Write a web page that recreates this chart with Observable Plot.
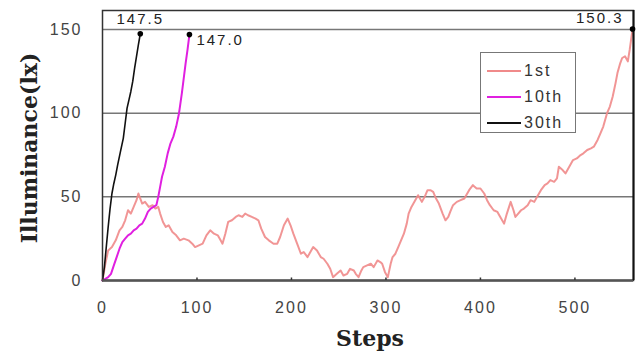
<!DOCTYPE html>
<html>
<head>
<meta charset="utf-8">
<script src="https://cdn.jsdelivr.net/npm/d3@7"></script>
<script src="https://cdn.jsdelivr.net/npm/@observablehq/plot@0.6"></script>
<style>
  html, body { margin: 0; padding: 0; background: #fff; }
  #wrap { position: relative; width: 637px; height: 358px; overflow: hidden; }
  #legend { position: absolute; left: 480px; top: 52px; width: 96px; height: 81px;
    border: 1.5px solid #777; background: #fff; box-sizing: border-box;
    font-family: "Liberation Sans", Arial, sans-serif; font-size: 16px; letter-spacing: 2px; color: #333; }
  #legend .row { position: absolute; left: 6px; height: 20px; display: flex; align-items: center; }
  #legend .sw { width: 34px; height: 0; margin-right: 3px; }
</style>
</head>
<body>
<div id="wrap"></div>
<script>
// Series names and colours
const seriesNames = ["1st", "10th", "30th"];
const seriesColors = ["#f08a8a", "#e020e0", "#111111"];

// 1st run
const steps1 = [0,3,6,10,14,18,21,24,27,30,33,36,38,40,42,45,49,53,56,59,61,64,67,70,74,78,82,86,91,95,98,102,106,110,114,118,122,125,127,130,133,137,141,144,148,151,154,158,162,165,168,172,176,181,185,188,192,196,199,202,206,210,213,217,220,223,227,231,234,238,241,244,248,252,255,259,262,266,268,271,274,276,280,284,287,291,294,296,299,302,305,307,310,313,316,319,322,324,327,331,334,338,341,344,347,350,353,356,360,363,366,368,371,375,379,383,388,392,396,400,404,407,410,414,418,421,425,428,432,435,437,440,443,446,450,453,457,460,464,468,471,474,478,481,483,487,490,494,498,502,506,509,513,517,520,524,527,530,534,537,540,543,545,548,550,553,556,558,561];
const lux1 = [0,10,18,20,24,30,32,36,42,40,44,48,52,49,46,47,44,45,43,44,40,35,32,33,29,27,24,25,24,22,20,21,22,27,30,28,27,24,22,28,35,36,38,39,38,40,39,38,37,36,31,26,24,22,22,26,33,37,33,28,22,16,17,14,17,20,18,14,13,10,7,2,4,6,3,4,7,6,4,2,6,8,9,10,8,12,11,10,5,2,10,14,16,20,24,28,34,40,44,48,51,47,50,54,54,53,49,46,40,36,38,41,45,47,48,49,54,57,55,55,52,48,45,42,41,38,34,40,47,42,38,40,42,43,45,48,47,50,54,57,58,60,59,61,68,66,64,68,72,73,75,76,78,79,80,84,88,92,100,104,110,118,124,130,133,134,131,138,150.3];

// 10th run
const steps10 = [0,3,6,9,12,15,18,21,24,27,30,33,36,39,42,45,48,51,54,57,59,61,63,66,69,72,75,78,81,84,86,88,90,92];
const lux10 = [0,1,2,4,9,14,19,23,25,27,28,30,31,33,34,37,41,43,44,45,50,56,62,68,76,82,86,92,100,112,121,130,138,147.0];

// 30th run
const steps30 = [0,2,4,6,8,10,12,14,16,19,22,24,26,28,30,32,34,36,38,40];
const lux30 = [0,8,20,32,43,52,58,63,69,77,85,94,103,108,113,119,127,134,141,147.5];

// Axis ticks and labels
const xTicks = [0,100,200,300,400,500];
const yTicks = [0,50,100,150];
const gridValues = [50,100,150];
const xLabel = "Steps";
const yLabel = "Illuminance(lx)";

const runs = [
  {name: seriesNames[0], steps: steps1, lux: lux1},
  {name: seriesNames[1], steps: steps10, lux: lux10},
  {name: seriesNames[2], steps: steps30, lux: lux30}
];
const rows = runs.flatMap(r => r.steps.map((s, i) => ({series: r.name, step: s, lux: r.lux[i]})));
const ends = runs.map(r => ({series: r.name, step: r.steps[r.steps.length - 1], lux: r.lux[r.lux.length - 1]}));

const colorOf = Object.fromEntries(seriesNames.map((n, i) => [n, seriesColors[i]]));

const chart = Plot.plot({
  width: 637,
  height: 358,
  marginLeft: 102,
  marginRight: 4,
  marginTop: 10,
  marginBottom: 78,
  x: {type: "linear", domain: [0, 562]},
  y: {type: "linear", domain: [0, 161.4]},
  style: {fontFamily: "Liberation Sans, Arial, sans-serif", fontSize: "16px", color: "#444", letterSpacing: "2px", background: "#fff"},
  marks: [
    Plot.ruleY(gridValues, {stroke: "#777", strokeWidth: 1.5}),
    Plot.line(rows.filter(d => d.series === "1st"), {x: "step", y: "lux", stroke: colorOf["1st"], strokeWidth: 2, strokeOpacity: 0.9}),
    Plot.line(rows.filter(d => d.series === "10th"), {x: "step", y: "lux", stroke: colorOf["10th"], strokeWidth: 2}),
    Plot.line(rows.filter(d => d.series === "30th"), {x: "step", y: "lux", stroke: colorOf["30th"], strokeWidth: 1.6}),
    Plot.frame({stroke: "#333", strokeWidth: 1.5}),
    Plot.ruleY([0], {stroke: "#555", strokeWidth: 2.5}),
    Plot.ruleX([562], {stroke: "#111", strokeWidth: 2}),
    Plot.ruleX(xTicks.slice(1), {x: d => d, y1: 0, y2: 1.5, stroke: "#333", strokeWidth: 1.5}),
    Plot.axisX({ticks: xTicks, tickSize: 0, tickPadding: 21, label: null}),
    Plot.axisY({ticks: yTicks, tickSize: 0, tickPadding: 20, label: null}),
    Plot.dot(ends, {x: "step", y: "lux", r: 2.8, fill: "#000"}),
    Plot.text(ends.filter(d => d.series === "30th"), {x: "step", y: "lux", text: d => d.lux.toFixed(1), dy: -15, textAnchor: "middle", fontSize: 15, fill: "#222"}),
    Plot.text(ends.filter(d => d.series === "10th"), {x: "step", y: "lux", text: d => d.lux.toFixed(1), dx: 7, dy: 6, textAnchor: "start", fontSize: 15, fill: "#222"}),
    Plot.text(ends.filter(d => d.series === "1st"), {x: "step", y: "lux", text: d => d.lux.toFixed(1), dx: -9, dy: -11, textAnchor: "end", fontSize: 15, fill: "#222"})
  ]
});

const svg = d3.select(chart);
svg.append("text")
  .attr("x", 370).attr("y", 346)
  .attr("text-anchor", "middle")
  .style("font-family", "DejaVu Serif, serif").style("font-weight", "bold")
  .style("font-size", "22px").style("letter-spacing", "0px").attr("fill", "#222")
  .text(xLabel);
svg.append("text")
  .attr("transform", "translate(37,148) rotate(-90)")
  .attr("text-anchor", "middle")
  .style("font-family", "DejaVu Serif, serif").style("font-weight", "bold")
  .style("font-size", "22px").style("letter-spacing", "0px").attr("fill", "#222")
  .text(yLabel);

const wrap = document.getElementById("wrap");
wrap.appendChild(chart);

const legend = document.createElement("div");
legend.id = "legend";
seriesNames.forEach((n, i) => {
  const row = document.createElement("div");
  row.className = "row";
  row.style.top = (8 + i * 26) + "px";
  const sw = document.createElement("div");
  sw.className = "sw";
  sw.style.borderTop = "2px solid " + seriesColors[i];
  const tx = document.createElement("span");
  tx.textContent = n;
  row.appendChild(sw);
  row.appendChild(tx);
  legend.appendChild(row);
});
wrap.appendChild(legend);
</script>
</body>
</html>
